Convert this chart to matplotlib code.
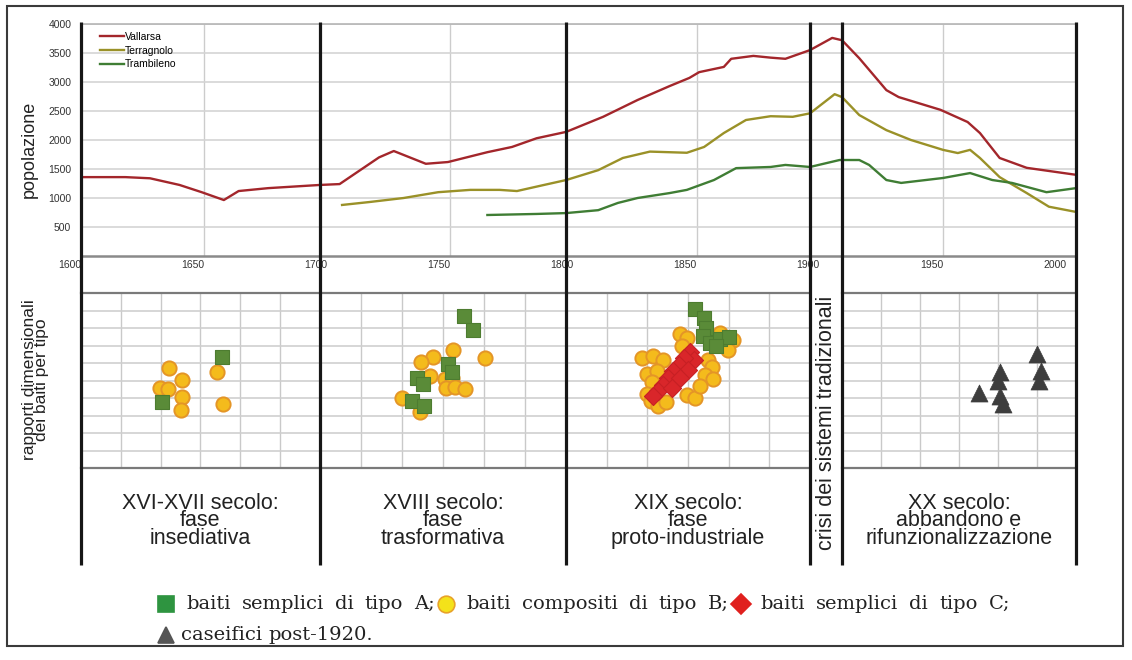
import matplotlib
matplotlib.use("Agg")
import matplotlib.pyplot as plt
import matplotlib.transforms as mtransforms
from matplotlib.lines import Line2D
from matplotlib.patches import Rectangle
import numpy as np

plt.rcParams["font.family"] = ["Liberation Sans", "DejaVu Sans"]

W, H, DPI = 1132, 660, 100

# ---- population of the three municipalities ----
vallarsa_years = [1600, 1618, 1628, 1640, 1649, 1658, 1664, 1676, 1697, 1705, 1721, 1727,
                  1740, 1749, 1765, 1775, 1785, 1797, 1812, 1826, 1839, 1847, 1851, 1861,
                  1864, 1873, 1880, 1886, 1896, 1905, 1909, 1916, 1927, 1932, 1949, 1960,
                  1965, 1973, 1984, 2004]
vallarsa_pop = [1360, 1360, 1340, 1225, 1100, 965, 1120, 1170, 1225, 1240, 1700, 1810,
                1590, 1620, 1790, 1880, 2030, 2140, 2400, 2690, 2930, 3070, 3170, 3260,
                3400, 3450, 3420, 3400, 3550, 3760, 3720, 3410, 2860, 2740, 2520, 2310,
                2120, 1690, 1520, 1400]

terragnolo_years = [1706, 1717, 1721, 1731, 1745, 1758, 1770, 1777, 1788, 1797, 1810, 1820,
                    1831, 1846, 1853, 1861, 1870, 1880, 1889, 1896, 1906, 1909, 1916, 1927,
                    1937, 1950, 1956, 1961, 1965, 1973, 1984, 1993, 2004]
terragnolo_pop = [880, 930, 950, 1000, 1100, 1140, 1140, 1120, 1225, 1310, 1480, 1690,
                  1800, 1780, 1880, 2120, 2345, 2410, 2400, 2460, 2790, 2740, 2430, 2170,
                  2000, 1830, 1775, 1830, 1690, 1360, 1085, 850, 760]

trambileno_years = [1765, 1785, 1797, 1810, 1818, 1826, 1839, 1846, 1857, 1866, 1880, 1886,
                    1896, 1908, 1916, 1920, 1927, 1933, 1950, 1961, 1970, 1978, 1992, 2004]
trambileno_pop = [707, 725, 740, 790, 915, 1000, 1085, 1140, 1310, 1515, 1535, 1570,
                  1535, 1655, 1655, 1570, 1310, 1260, 1345, 1430, 1310, 1260, 1100, 1170]

series_names = ["Vallarsa", "Terragnolo", "Trambileno"]
series_colors = ["#a3262b", "#9a9128", "#3f7d34"]

# ---- historical phases ----
period_edges = [1600, 1697, 1797, 1896, 1909, 2004]
period_texts = ["XVI-XVII secolo:\nfase\ninsediativa",
                "XVIII secolo:\nfase\ntrasformativa",
                "XIX secolo:\nfase\nproto-industriale",
                None,
                "XX secolo:\nabbandono e\nrifunzionalizzazione"]
crisis_text = "crisi dei sistemi tradizionali"

# ---- dimensional ratios of the huts, by type (year, ratio index) ----
type_a_x = [1632.9, 1657.2, 1755.5, 1759.2, 1749.0, 1750.6, 1736.4, 1738.9, 1734.4, 1739.3,
            1849.3, 1852.9, 1853.8, 1852.5, 1855.4, 1859.4, 1863.1, 1857.8]
type_a_y = [3.77, 6.34, 8.69, 7.89, 5.94, 5.49, 5.14, 4.80, 3.83, 3.54,
            9.09, 8.57, 8.00, 7.54, 7.14, 7.37, 7.49, 6.97]

type_b_x = [1635.7, 1641.0, 1632.1, 1635.3, 1641.0, 1640.6, 1655.2, 1657.7,
            1751.0, 1764.0, 1742.9, 1738.0, 1747.8, 1750.6, 1748.2, 1751.8, 1755.9, 1730.3,
            1737.6, 1741.7,
            1843.2, 1846.0, 1844.0, 1855.4, 1859.4, 1861.1, 1864.7, 1827.8, 1832.2, 1836.3,
            1829.8, 1833.9, 1831.8, 1829.8, 1831.4, 1834.3, 1837.5, 1846.0, 1849.3, 1854.6,
            1856.2, 1853.4, 1856.6, 1851.3, 1862.7]
type_b_y = [5.71, 5.03, 4.57, 4.51, 4.06, 3.31, 5.49, 3.66,
            6.74, 6.29, 6.34, 6.06, 5.09, 5.14, 4.57, 4.63, 4.51, 4.00,
            3.20, 5.26,
            7.66, 7.43, 6.97, 7.49, 7.71, 7.09, 7.31, 6.29, 6.40, 6.17,
            5.37, 5.54, 4.91, 4.23, 3.83, 3.54, 3.77, 4.17, 4.00, 6.17,
            5.77, 5.31, 5.09, 4.69, 6.74]

type_c_x = [1847.3, 1848.9, 1844.8, 1842.8, 1846.4, 1840.4, 1838.3, 1843.2, 1836.3, 1834.3,
            1832.2, 1840.0]
type_c_y = [6.63, 6.17, 6.29, 5.89, 5.60, 5.54, 5.14, 5.14, 4.74, 4.40, 4.11, 4.57]

dairy_x = [1964.6, 1973.1, 1972.3, 1973.1, 1974.3, 1988.1, 1989.8, 1989.0]
dairy_y = [4.29, 5.49, 4.97, 4.11, 3.66, 6.51, 5.54, 4.97]

legend_items = [("s", "#2e9440", "#2e9440", "baiti semplici di tipo A;"),
                ("o", "#f4e21a", "#e8a22a", "baiti compositi di tipo B;"),
                ("D", "#e0201e", "#e0201e", "baiti semplici di tipo C;")]
legend_last = ("^", "#555555", "#555555", "caseifici post-1920.")


def fx(px):
    return px / W


def fy(py):
    return 1 - py / H


fig = plt.figure(figsize=(W / DPI, H / DPI), dpi=DPI)
fig.patch.set_facecolor("white")

# ---------------- population chart ----------------
ax = fig.add_axes([fx(81), fy(256), fx(1076) - fx(81), fy(24) - fy(256)])
ax.set_xlim(1600, 2004)
ax.set_ylim(0, 4000)
for s in ax.spines.values():
    s.set_visible(False)
ax.set_yticks(range(500, 4001, 500))
ax.set_xticks(range(1600, 2001, 50))
ax.tick_params(length=0, labelsize=7.5, colors="#333333")
ax.tick_params(axis="y", pad=7)
ax.tick_params(axis="x", pad=3)
for lab in ax.get_xticklabels():
    lab.set_horizontalalignment("right")
ax.grid(axis="y", color="#d4d4d4", lw=1.2)
for yr in [1650, 1750, 1850, 1950]:
    ax.axvline(yr, color="#cccccc", lw=1.0, zorder=0)
ax.axhline(0, color="#8a8a8a", lw=1.8, clip_on=False)
ax.axhline(4000, color="#b5b5b5", lw=1.2, clip_on=False)

for yrs, vals, name, col in zip([vallarsa_years, terragnolo_years, trambileno_years],
                                [vallarsa_pop, terragnolo_pop, trambileno_pop],
                                series_names, series_colors):
    ax.plot(yrs, vals, color=col, lw=1.7, label=name, solid_joinstyle="round", zorder=3)

leg = ax.legend(loc="upper left", bbox_to_anchor=(19 / 995, 1 - 8 / 232), frameon=False,
                fontsize=7.5, handlelength=2.3, handletextpad=0.05, labelspacing=0.35,
                borderaxespad=0, borderpad=0)

fig.text(fx(29), fy(149), "popolazione", rotation=90, ha="center", va="center",
         fontsize=13, color="#222222")

# ---------------- hut ratio chart ----------------
axs = fig.add_axes([fx(81), fy(468), fx(1076) - fx(81), fy(293) - fy(468)])
axs.set_xlim(1600, 2004)
axs.set_ylim(0, 10)
axs.axis("off")
for i in range(len(period_edges) - 1):
    a, b = period_edges[i], period_edges[i + 1]
    if period_texts[i] is None:
        continue
    for xv in np.linspace(a, b, 7)[1:-1]:
        axs.plot([xv, xv], [0, 10], color="#c9c9c9", lw=1.0, zorder=1)
    for yv in range(1, 10):
        axs.plot([a, b], [yv, yv], color="#cfcfcf", lw=1.2, zorder=1)
    for yv in (0, 10):
        axs.plot([a, b], [yv, yv], color="#7a7a7a", lw=1.6, zorder=1, clip_on=False)

axs.scatter(type_b_x, type_b_y, marker="o", s=105, facecolor="#f4bb1c",
            edgecolor="#e49527", linewidth=1.4, zorder=3)
axs.scatter(type_a_x, type_a_y, marker="s", s=110, facecolor="#5a8b38",
            edgecolor="#4d7c30", linewidth=0.8, zorder=4)
axs.scatter(type_c_x, type_c_y, marker="D", s=85, facecolor="#d9262a",
            edgecolor="#c72024", linewidth=0.8, zorder=5)
axs.scatter(dairy_x, dairy_y, marker="^", s=150, facecolor="#3d3d3d",
            edgecolor="#3d3d3d", linewidth=0.5, zorder=5)

fig.text(fx(36), fy(380), "rapporti dimensionali\ndei baiti per tipo", rotation=90,
         ha="center", va="center", fontsize=12.5, linespacing=0.75, color="#222222",
         multialignment="center")

# ---------------- phase boundaries and captions ----------------
trans = mtransforms.blended_transform_factory(ax.transData, fig.transFigure)
for e in period_edges:
    fig.add_artist(Line2D([e, e], [fy(22), fy(565)], transform=trans, color="#161616",
                          lw=2.3, solid_capstyle="butt", zorder=10))

for i, txt in enumerate(period_texts):
    if txt is None:
        continue
    cx = (period_edges[i] + period_edges[i + 1]) / 2
    fig.text(cx, fy(521), txt, transform=trans, ha="center", va="center",
             fontsize=15.5, linespacing=0.8, color="#222222", multialignment="center")

fig.text((period_edges[3] + period_edges[4]) / 2, fy(423), crisis_text, transform=trans,
         rotation=90, ha="center", va="center", fontsize=15.5, color="#222222")

# ---------------- outer frame ----------------
fig.add_artist(Rectangle((fx(7), fy(646)), fx(1123) - fx(7), fy(6) - fy(646),
                         transform=fig.transFigure, fill=False, ec="#3a3a3a", lw=1.5))

# ---------------- symbol key: a justified caption paragraph ----------------
axk = fig.add_axes([0, 0, 1, 1])
axk.set_xlim(0, W)
axk.set_ylim(H, 0)
axk.axis("off")
fig.canvas.draw()
renderer = fig.canvas.get_renderer()
serif = dict(family="DejaVu Serif", fontsize=14, color="#222222")
marker_ms = {"s": 12, "o": 12, "D": 10, "^": 12}
MARK_W = 18      # width taken by an inline symbol
TIGHT = 3        # unstretched gap in front of a symbol


def word_width(word):
    t = axk.text(0, 0, word, **serif)
    w = t.get_window_extent(renderer=renderer).width
    t.remove()
    return w


def build_tokens(entries):
    toks = []
    for k, (mk, fc, ec, label) in enumerate(entries):
        toks.append(("mark", (mk, fc, ec), MARK_W, k > 0))
        for wd in label.split():
            toks.append(("word", wd, word_width(wd), False))
    return toks


def set_row(entries, x0, y, x1=None):
    toks = build_tokens(entries)
    n_stretch = sum(1 for i, t in enumerate(toks) if i > 0 and not t[3])
    n_tight = sum(1 for i, t in enumerate(toks) if i > 0 and t[3])
    natural_space = word_width("a b") - word_width("a") - word_width("b")
    if x1 is None:
        gap = natural_space
    else:
        gap = (x1 - x0 - sum(t[2] for t in toks) - n_tight * TIGHT) / n_stretch
    xc = x0
    for i, (kind, val, w, tight) in enumerate(toks):
        if i > 0:
            xc += TIGHT if tight else gap
        if kind == "mark":
            mk, fc, ec = val
            axk.plot([xc + w / 2], [y], marker=mk, ms=marker_ms[mk], mfc=fc, mec=ec,
                     mew=1.2, ls="none")
        else:
            axk.text(xc, y, val, ha="left", va="center", **serif)
        xc += w


set_row(legend_items, 157, 604, 1010)
set_row([legend_last], 157, 635)

fig.savefig("out.png", dpi=DPI)
